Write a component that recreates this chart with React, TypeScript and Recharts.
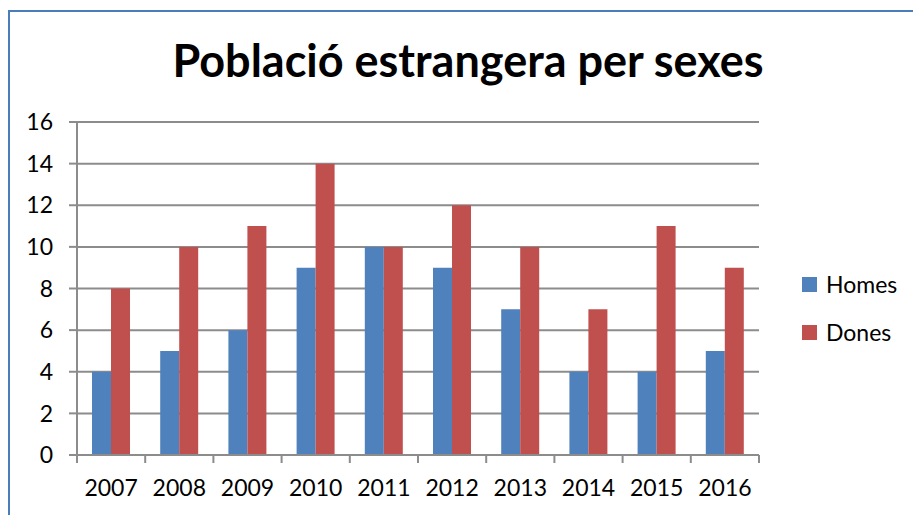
import React from 'react';
import { BarChart, Bar, XAxis, YAxis, CartesianGrid } from 'recharts';

const years = ['2007', '2008', '2009', '2010', '2011', '2012', '2013', '2014', '2015', '2016'];
const homes = [4, 5, 6, 9, 10, 9, 7, 4, 4, 5];
const dones = [8, 10, 11, 14, 10, 12, 10, 7, 11, 9];
const yTicks = [0, 2, 4, 6, 8, 10, 12, 14, 16];

const data = years.map((year, i) => ({ year, Homes: homes[i], Dones: dones[i] }));

const W = 913;
const H = 515;
const M = { top: 122, right: 154, bottom: 0, left: 0 };
const Y_AXIS_W = 77;
const X_AXIS_H = 60;
const PLOT_W = W - M.left - M.right - Y_AXIS_W;
const BAND = PLOT_W / years.length;
const GRID = '#8c8c8c';
const FONT = 'Lato, "Open Sans", sans-serif';
const COLORS = { Homes: '#4F81BD', Dones: '#C0504D' };

const TICK_SIZE = 8;
const TICK_MARGIN = 17;

const YearTick = (props: any) => {
  const { x, y, payload, index } = props;
  const top = y - TICK_SIZE - TICK_MARGIN;
  return (
    <g>
      {index === 0 && (
        <line x1={x - BAND / 2} x2={x - BAND / 2} y1={top} y2={top + TICK_SIZE} stroke={GRID} strokeWidth={2} />
      )}
      <line x1={x + BAND / 2} x2={x + BAND / 2} y1={top} y2={top + TICK_SIZE} stroke={GRID} strokeWidth={2} />
      <text x={x} y={y} dy="0.71em" textAnchor="middle" fill="#000" fontSize={23} fontFamily={FONT}>
        {payload.value}
      </text>
    </g>
  );
};

const LegendBox = () => (
  <div style={{ position: 'absolute', left: 802, top: 260, fontFamily: FONT, fontSize: 23, color: '#000' }}>
    {(['Homes', 'Dones'] as const).map((k) => (
      <div key={k} style={{ display: 'flex', alignItems: 'center', height: 48 }}>
        <span style={{ width: 15, height: 15, background: COLORS[k], marginRight: 9, display: 'inline-block' }} />
        <span>{k}</span>
      </div>
    ))}
  </div>
);

export default function App() {
  return (
    <div style={{ position: 'absolute', left: 0, top: 0, width: W, height: H, background: '#fff', overflow: 'hidden' }}>
      <div
        style={{
          position: 'absolute',
          left: 8,
          top: 10,
          width: W,
          height: H,
          borderTop: '2px solid #4A7EBB',
          borderLeft: '2px solid #4A7EBB',
        }}
      />
      <div
        style={{
          position: 'absolute',
          left: 0,
          width: 936,
          top: 32,
          textAlign: 'center',
          fontFamily: FONT,
          fontWeight: 700,
          fontSize: 45,
          lineHeight: '56px',
          color: '#000',
        }}
      >
        Població estrangera per sexes
      </div>
      <div style={{ position: 'absolute', left: 0, top: 0 }}>
        <BarChart width={W} height={H} data={data} margin={M} barCategoryGap="22%" barGap={0}>
          <CartesianGrid vertical={false} stroke={GRID} strokeWidth={2} />
          <XAxis
            dataKey="year"
            height={X_AXIS_H}
            stroke={GRID}
            strokeWidth={2}
            tickLine={false}
            tickSize={TICK_SIZE}
            tickMargin={TICK_MARGIN}
            interval={0}
            tick={<YearTick />}
          />
          <YAxis
            width={Y_AXIS_W}
            domain={[0, 16]}
            ticks={yTicks}
            interval={0}
            stroke={GRID}
            strokeWidth={2}
            tickSize={8}
            tickMargin={16}
            tick={{ fill: '#000', fontSize: 23, fontFamily: FONT }}
          />
          <Bar dataKey="Homes" fill={COLORS.Homes} isAnimationActive={false} />
          <Bar dataKey="Dones" fill={COLORS.Dones} isAnimationActive={false} />
        </BarChart>
      </div>
      <LegendBox />
    </div>
  );
}
